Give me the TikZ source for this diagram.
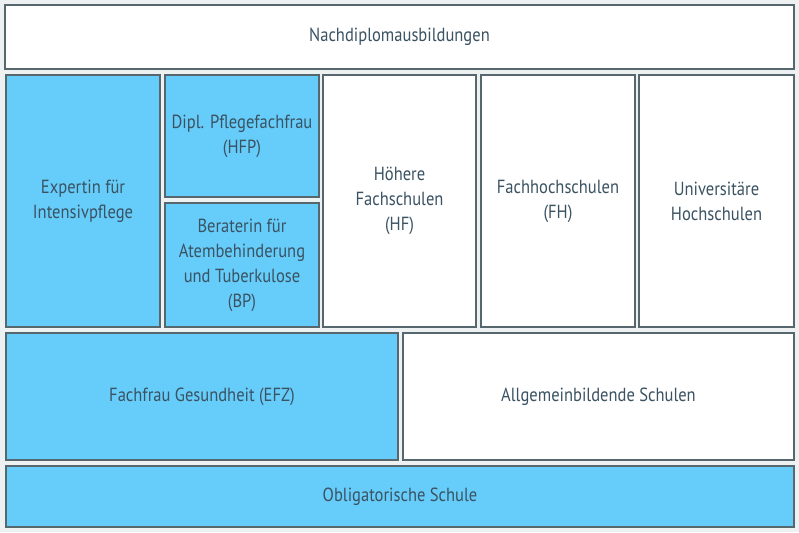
\documentclass[tikz,border=0pt]{standalone}
\usepackage{fontspec}
\setmainfont{PT Sans}[FakeStretch=0.87]
\usepackage{tikz}
\usepackage{color}

\definecolor{boxblue}{HTML}{66CDFA}
\definecolor{boxline}{HTML}{56676D}
\definecolor{boxtext}{HTML}{3A5262}
\definecolor{backgr}{HTML}{EEF1F2}

\tikzset{
  box/.style={draw=boxline, line width=1.6pt, fill=white, text=boxtext,
    align=center, inner sep=0pt,
    font=\fontsize{19}{25}\selectfont},
  bluebox/.style={box, fill=boxblue}
}

\begin{document}
\begin{tikzpicture}[x=1pt,y=-1pt]
\fill[backgr] (0,0) rectangle (799,532);
\useasboundingbox (0,0) rectangle (799,532);

% oberste Zeile
\node[box, minimum width=789, minimum height=64] (nach) at (399.5,37) {Nachdiplomausbildungen};

% Tertiaerstufe
\node[bluebox, minimum width=154, minimum height=252] (exp) at (83,201) {Expertin für\\Intensivpflege};
\node[bluebox, minimum width=154, minimum height=122] (dipl) at (242,136) {Dipl. Pflegefachfrau\\(HFP)};
\node[bluebox, minimum width=154, minimum height=124] (ber) at (242,265) {Beraterin für\\Atembehinderung\\und Tuberkulose\\(BP)};
\node[box, minimum width=153, minimum height=252] (hf) at (399.5,201) {Höhere\\Fachschulen\\(HF)};
\node[box, minimum width=154, minimum height=252] (fh) at (558,201) {Fachhochschulen\\(FH)};
\node[box, minimum width=155, minimum height=252] (uni) at (716.5,201) {Universitäre\\Hochschulen};

% Sekundarstufe II
\node[bluebox, minimum width=392, minimum height=127] (efz) at (202,396.5) {Fachfrau Gesundheit (EFZ)};
\node[box, minimum width=391, minimum height=127] (allg) at (598.5,396.5) {Allgemeinbildende Schulen};

% Grundstufe
\node[bluebox, minimum width=788, minimum height=61] (obl) at (400,496.5) {Obligatorische Schule};
\end{tikzpicture}
\end{document}
